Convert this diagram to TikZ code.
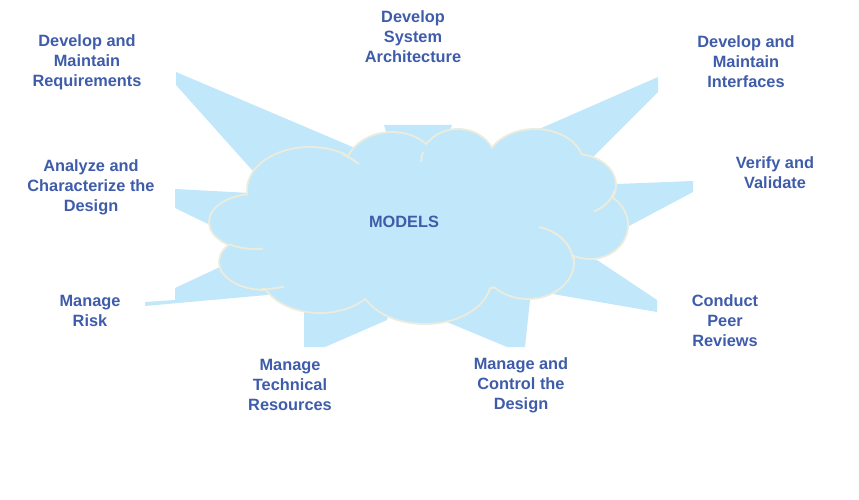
\documentclass[tikz,border=0pt]{standalone}
\usepackage{fontspec}
\setmainfont{Liberation Sans}

\definecolor{rayblue}{RGB}{193,231,250}
\definecolor{rimcol}{RGB}{236,236,222}
\definecolor{txtblue}{RGB}{62,92,170}

\tikzset{
  lbl/.style={text=txtblue, font=\bfseries\fontsize{9.3}{11.3}\selectfont, align=center, inner sep=1pt},
  ray/.style={fill=rayblue},
  rim/.style={draw=rimcol, line width=1.1pt}
}
% Wolkenbausche: x/y/rx/ry in Pixeln
\def\puffs{310/190/62/42, 255/222/45/27, 265/262/45/27, 320/270/60/42, 425/280/65/43,
  528/262/45/36, 590/225/37/33, 575/185/40/30, 535/165/48/35, 458/163/37/33, 392/172/47/39, 418/226/150/70}
% innerer Bogen eines Bausches
\newcommand\puffarc[6]{\draw[rim] ([shift={(#5:#3 and #4)}]#1,#2) arc[start angle=#5, end angle=#6, x radius=#3, y radius=#4];}

\begin{document}
\begin{tikzpicture}[x=0.02cm, y=-0.02cm]
	% Rahmen: 859 x 500 Pixel
	\useasboundingbox (0,0) rectangle (859,500);
	\coordinate (c) at (418,226);
	% Strahlen hinter der Wolke
	\fill[ray] (176,72) -- (176,85) -- (252,170) -- (c) -- (355,148) -- cycle;
	\fill[ray] (384,125) -- (452,125) -- (440,160) -- (c) -- (395,160) -- cycle;
	\fill[ray] (658,77) -- (658,92) -- (593,157) -- (c) -- (537,130) -- cycle;
	\fill[ray] (693,181) -- (693,192) -- (627,227) -- (c) -- (617,184) -- cycle;
	\fill[ray] (657,300) -- (657,312) -- (547,293) -- (c) -- (597,260) -- cycle;
	\fill[ray] (530,300) -- (525,347) -- (507,347) -- (447,322) -- (c) -- cycle;
	\fill[ray] (304,305) -- (304,347) -- (325,347) -- (387,320) -- (c) -- cycle;
	\fill[ray] (175,288) -- (175,300) -- (145,302) -- (145,306) -- (267,295) -- (c) -- (220,267) -- cycle;
	\fill[ray] (175,189) -- (175,208) -- (210,225) -- (c) -- (250,193) -- cycle;
	% Wolke: fuellen, Rand doppelt breit, nochmal fuellen
	\foreach \x/\y/\a/\b in \puffs
	  \fill[rayblue] (\x,\y) ellipse[x radius=\a, y radius=\b];
	\foreach \x/\y/\a/\b in \puffs
	  \draw[rimcol, line width=2.2pt] (\x,\y) ellipse[x radius=\a, y radius=\b];
	\foreach \x/\y/\a/\b in \puffs
	  \fill[rayblue] (\x,\y) ellipse[x radius=\a, y radius=\b];
	% innere Boegen
	\puffarc{310}{190}{62}{42}{-58}{-38}
	\puffarc{255}{222}{45}{27}{125}{80}
	\puffarc{265}{262}{45}{27}{95}{65}
	\puffarc{528}{262}{45}{36}{-76}{-5}
	\puffarc{575}{185}{40}{30}{10}{62}
	\puffarc{458}{163}{37}{33}{-160}{-178}
	\node[lbl] (models) at (404,222) {MODELS};
	% Beschriftungen
	\node[lbl] (req) at (87,62) {Develop and\\Maintain\\Requirements};
	\node[lbl] (arch) at (413,37) {Develop\\System\\Architecture};
	\node[lbl] (intf) at (746,62) {Develop and\\Maintain\\Interfaces};
	\node[lbl] (verify) at (775,173) {Verify and\\Validate};
	\node[lbl] (peer) at (725,321) {Conduct\\Peer\\Reviews};
	\node[lbl] (ctrl) at (521,385) {Manage and\\Control the\\Design};
	\node[lbl] (res) at (290,385) {Manage\\Technical\\Resources};
	\node[lbl] (risk) at (90,311) {Manage\\Risk};
	\node[lbl] (anal) at (91,187) {Analyze and\\Characterize the\\Design};
\end{tikzpicture}
\end{document}
